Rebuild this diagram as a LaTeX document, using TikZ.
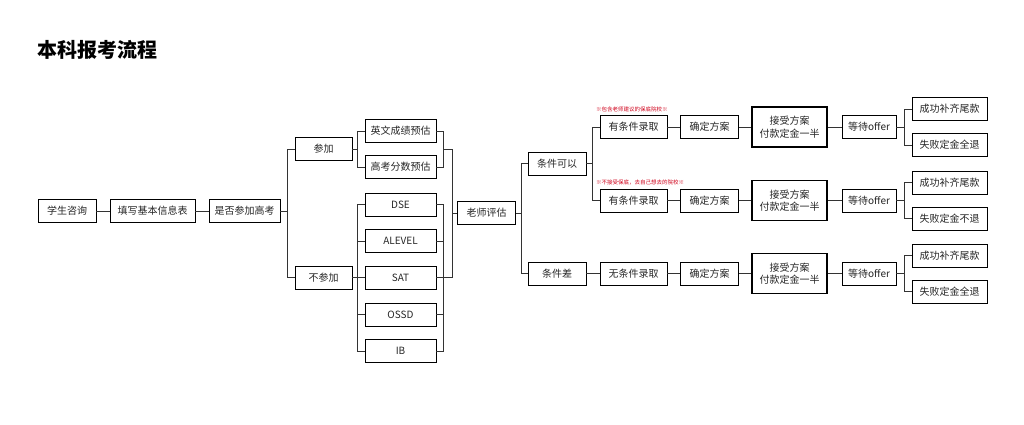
\documentclass[tikz,border=0pt]{standalone}
\usepackage{fontspec}
\setmainfont{Noto Sans CJK SC}
\usetikzlibrary{calc}
\definecolor{notered}{HTML}{D0021B}
\begin{document}
\begin{tikzpicture}[x=1pt,y=-1pt,
  box/.style={draw=black,line width=0.9pt,minimum height=23pt,inner sep=0pt,
    font=\fontsize{10}{11.5}\selectfont,text=black!85},
  bigbox/.style={box,line width=1.8pt,minimum height=40pt,align=center},
  link/.style={draw=black!80,line width=1pt},
  note/.style={anchor=west,inner sep=0pt,text=notered,font=\fontsize{5.5}{6}\selectfont}]
\useasboundingbox (0,0) rectangle (1024,424);
\fill[white] (0,0) rectangle (1024,424);

\node[anchor=west,inner sep=0pt,font=\fontsize{20}{23}\selectfont\bfseries] (title) at (37,50) {本科报考流程};

\node[box,minimum width=58pt] (zx) at (67,211) {学生咨询};
\node[box,minimum width=85pt] (tx) at (152.5,211) {填写基本信息表};
\node[box,minimum width=71pt] (sf) at (244.5,211) {是否参加高考};
\node[box,minimum width=57pt] (cj) at (323.5,149) {参加};
\node[box,minimum width=57pt] (bcj) at (323.5,277.5) {不参加};
\node[box,minimum width=71pt] (yw) at (400.5,131) {英文成绩预估};
\node[box,minimum width=71pt] (gk) at (400.5,167) {高考分数预估};
\node[box,minimum width=71pt] (dse) at (400.5,204.5) {DSE};
\node[box,minimum width=71pt] (al) at (400.5,241) {ALEVEL};
\node[box,minimum width=71pt] (sat) at (400.5,277.5) {SAT};
\node[box,minimum width=71pt] (ossd) at (400.5,314.5) {OSSD};
\node[box,minimum width=71pt] (ib) at (400.5,351) {IB};
\node[box,minimum width=58pt] (ls) at (486.5,213) {老师评估};
\node[box,minimum width=58pt] (kx) at (557,163.5) {条件可以};
\node[box,minimum width=58pt] (cc) at (557,273.5) {条件差};
\node[box,minimum width=67pt] (yt1) at (633.5,127) {有条件录取};
\node[box,minimum width=67pt] (yt2) at (633.5,200.5) {有条件录取};
\node[box,minimum width=67pt] (wt) at (633.5,273.5) {无条件录取};
\node[note] (n1) at (596,109) {※包含老师建议的保底院校※};
\node[note] (n2) at (596,182) {※不接受保底，去自己想去的院校※};

\foreach \i/\y/\last in {1/127/失败定金全退,2/200.5/失败定金不退,3/273.5/失败定金全退}{
  \node[box,minimum width=58pt] (qd\i) at (709.5,\y) {确定方案};
  \node[bigbox,minimum width=75pt] (js\i) at (789.5,\y) {接受方案\\[1pt]付款定金一半};
  \node[box,minimum width=54pt] (dd\i) at (869,\y) {等待offer};
  \node[box,minimum width=75pt] (cg\i) at (949.5,\y-18) {成功补齐尾款};
  \node[box,minimum width=75pt] (sb\i) at (949.5,\y+18) {\last};
  \draw[link] (qd\i.east) -- (js\i.west);
  \draw[link] (js\i.east) -- (dd\i.west);
  \draw[link] (cg\i.west) -- ++(-7,0) coordinate (c\i) |- (sb\i.west);
  \draw[link] (dd\i.east) -- (dd\i.east -| c\i);
}

\draw[link] (zx.east) -- (tx.west);
\draw[link] (tx.east) -- (sf.west);
\draw[link] (cj.west) -- ++(-7,0) coordinate (b1) |- (bcj.west);
\draw[link] (sf.east) -- (sf.east -| b1);
\draw[link] (yw.west) -- ++(-7,0) coordinate (b2) |- (gk.west);
\draw[link] (cj.east) -- (cj.east -| b2);
\draw[link] (dse.west) -- ++(-7,0) coordinate (b3) |- (ib.west);
\foreach \n in {al,sat,ossd} \draw[link] (\n.west) -- (\n.west -| b3);
\draw[link] (bcj.east) -- (bcj.east -| b3);
\draw[link] (yw.east) -- ++(7,0) coordinate (b4) |- (gk.east);
\draw[link] (dse.east) -- ++(7,0) |- (ib.east);
\foreach \n in {al,ossd} \draw[link] (\n.east) -- ++(7,0);
\coordinate (b5) at ($(b4)!.5!(b4|-gk.east)$);
\draw[link] (b5) -- ++(9,0) coordinate (b6) |- (sat.east);
\draw[link] (ls.west) -- (ls.west -| b6);
\draw[link] (kx.west) -- ++(-6,0) coordinate (b7) |- (cc.west);
\draw[link] (ls.east) -- (ls.east -| b7);
\draw[link] (yt1.west) -- ++(-7,0) coordinate (b8) |- (yt2.west);
\draw[link] (kx.east) -- (kx.east -| b8);
\draw[link] (cc.east) -- (wt.west);
\draw[link] (yt1.east) -- (qd1.west);
\draw[link] (yt2.east) -- (qd2.west);
\draw[link] (wt.east) -- (qd3.west);
\end{tikzpicture}
\end{document}
